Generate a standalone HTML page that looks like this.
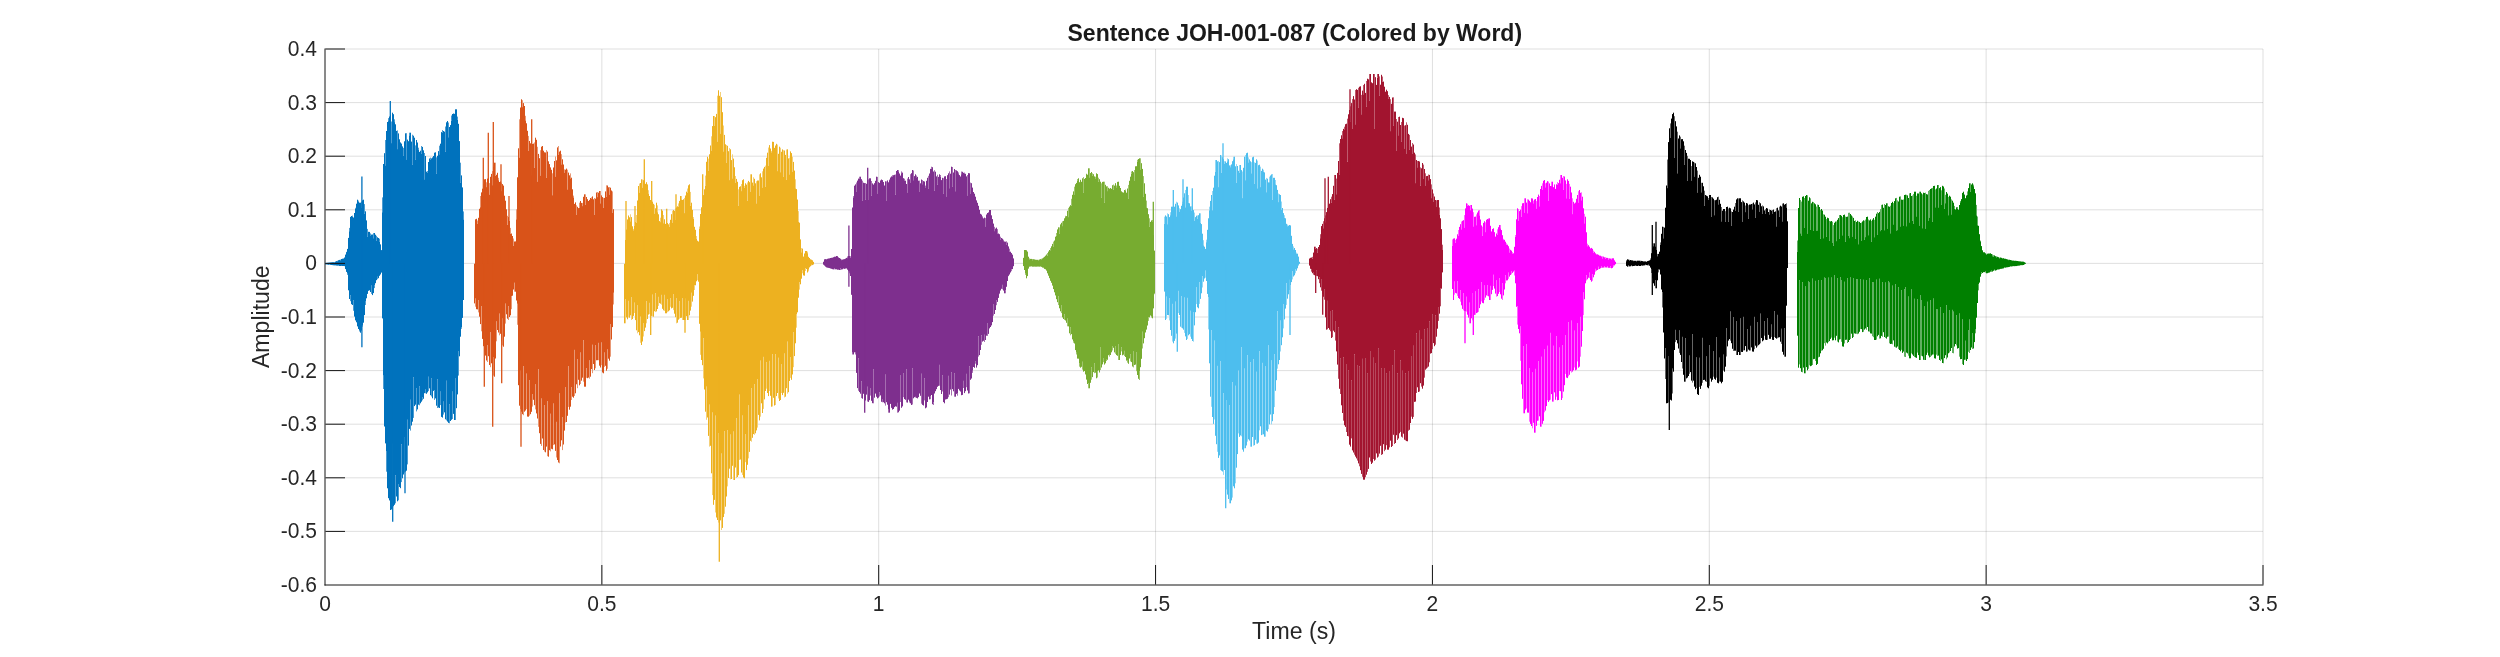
<!DOCTYPE html>
<html><head><meta charset="utf-8"><title>Sentence JOH-001-087</title>
<style>html,body{margin:0;padding:0;background:#fff;width:2500px;height:657px;overflow:hidden;font-family:"Liberation Sans",sans-serif}svg{display:block;will-change:transform}</style>
</head><body>
<svg width="2500" height="657" viewBox="0 0 2500 657"><g stroke="#262626" stroke-opacity="0.15" stroke-width="1"><line x1="601.86" y1="49" x2="601.86" y2="585"/><line x1="878.71" y1="49" x2="878.71" y2="585"/><line x1="1155.57" y1="49" x2="1155.57" y2="585"/><line x1="1432.43" y1="49" x2="1432.43" y2="585"/><line x1="1709.29" y1="49" x2="1709.29" y2="585"/><line x1="1986.14" y1="49" x2="1986.14" y2="585"/><line x1="2263.00" y1="49" x2="2263.00" y2="585"/><line x1="325" y1="531.40" x2="2263" y2="531.40"/><line x1="325" y1="477.80" x2="2263" y2="477.80"/><line x1="325" y1="424.20" x2="2263" y2="424.20"/><line x1="325" y1="370.60" x2="2263" y2="370.60"/><line x1="325" y1="317.00" x2="2263" y2="317.00"/><line x1="325" y1="263.40" x2="2263" y2="263.40"/><line x1="325" y1="209.80" x2="2263" y2="209.80"/><line x1="325" y1="156.20" x2="2263" y2="156.20"/><line x1="325" y1="102.60" x2="2263" y2="102.60"/><line x1="325" y1="49.00" x2="2263" y2="49.00"/></g>
<path fill="none" stroke="#4c9cd1" stroke-width="1" d="M325.5 262.9V262.9M328.5 262.6V262.6M331.5 262.3V262.3M334.5 262.0V262.4M337.5 260.7V261.2M340.5 259.6V260.3M343.5 258.3V258.9M346.5 251.8V252.1M349.5 227.9V231.2M352.5 215.6V216.6M355.5 207.8V208.9M358.5 200.6V201.8M361.5 201.7V207.9M364.5 204.1V213.8M367.5 228.9V236.5M370.5 233.4V235.4M373.5 233.1V238.2M376.5 235.8V240.6M379.5 238.7V241.6M382.5 197.4V212.2M385.5 140.0V165.3M388.5 118.1V121.1M391.5 121.5V143.1M394.5 119.3V122.1M397.5 130.4V149.1M400.5 143.0V142.6M403.5 147.9V155.5M406.5 133.2V159.4M409.5 132.7V135.3M412.5 134.7V164.6M415.5 145.4V159.6M418.5 147.7V150.0M421.5 146.0V153.9M424.5 153.0V179.3M427.5 171.0V172.8M430.5 157.6V159.5M433.5 160.9V156.0M436.5 157.3V173.6M439.5 145.7V154.3M442.5 130.1V132.8M445.5 126.5V151.8M448.5 122.5V137.2M451.5 115.5V120.7M454.5 120.7V113.9M457.5 116.6V119.5M460.5 162.7V182.5M463.5 211.4V219.3"/>
<path fill="none" stroke="#4c9cd1" stroke-width="1" d="M326.5 264.4V264.5M329.5 264.5V264.8M332.5 265.0V265.2M335.5 265.3V265.5M338.5 265.6V265.7M341.5 265.9V265.9M344.5 266.1V266.2M347.5 273.7V274.9M350.5 295.4V301.2M353.5 300.3V310.8M356.5 322.2V321.2M359.5 330.0V331.5M362.5 325.3V326.6M365.5 301.6V305.0M368.5 290.7V289.8M371.5 285.7V293.9M374.5 285.4V288.1M377.5 276.8V279.2M380.5 274.3V274.6M383.5 375.7V389.0M386.5 451.6V471.7M389.5 500.3V499.9M392.5 443.7V507.8M395.5 475.2V503.3M398.5 484.0V500.3M401.5 444.3V482.1M404.5 437.5V472.6M407.5 419.8V464.4M410.5 399.8V430.6M413.5 377.4V417.9M416.5 388.1V411.4M419.5 386.5V405.3M422.5 397.5V400.3M425.5 389.6V393.3M428.5 376.8V391.1M431.5 378.5V396.5M434.5 390.3V399.9M437.5 379.4V408.0M440.5 391.7V405.1M443.5 401.7V414.6M446.5 380.8V420.4M449.5 404.2V423.3M452.5 391.7V419.0M455.5 378.6V420.0M458.5 351.0V375.6M461.5 327.2V328.8"/>
<path fill="none" stroke="#0072BD" stroke-width="1" d="M325.5 262.9V264.4M326.5 262.8V264.4M327.5 262.7V264.6M328.5 262.6V264.8M329.5 262.5V264.5M330.5 262.4V264.9M331.5 262.3V265.0M332.5 262.2V265.0M333.5 262.2V265.3M334.5 262.4V265.4M335.5 261.6V265.3M336.5 261.1V265.6M337.5 261.2V265.7M338.5 260.2V265.6M339.5 259.9V266.0M340.5 260.3V266.0M341.5 259.0V265.9M342.5 258.7V266.0M343.5 258.9V266.0M344.5 257.5V266.1M345.5 254.6V269.1M346.5 252.1V271.9M347.5 248.9V273.7M348.5 237.9V290.3M349.5 231.2V299.0M350.5 216.9V295.4M351.5 216.0V304.2M352.5 216.6V305.0M353.5 217.5V300.3M354.5 213.0V316.6M355.5 208.9V320.4M356.5 203.7V322.2M357.5 199.7V326.4M358.5 201.8V329.0M359.5 202.7V330.0M360.5 202.7V332.7M361.5 207.9V330.6M362.5 200.3V325.3M363.5 199.7V322.7M364.5 213.8V315.1M365.5 211.3V301.6M366.5 220.4V298.3M367.5 236.5V293.9M368.5 231.8V290.7M369.5 231.9V290.3M370.5 235.4V292.0M371.5 234.6V285.7M372.5 234.5V295.1M373.5 238.2V293.1M374.5 233.0V285.4M375.5 234.7V283.2M376.5 240.6V280.2M377.5 237.3V276.8M378.5 238.0V278.2M379.5 241.6V275.8M380.5 244.4V274.3M381.5 250.1V272.6M382.5 212.2V318.4M383.5 164.0V375.7M384.5 153.2V426.5M385.5 165.3V443.4M386.5 131.0V451.6M387.5 122.0V488.3M388.5 121.1V498.2M389.5 116.5V500.3M390.5 115.0V510.0M391.5 143.1V509.5M392.5 112.7V443.7M393.5 114.2V506.2M394.5 122.1V504.8M395.5 124.3V475.2M396.5 130.9V496.5M397.5 149.1V501.3M398.5 133.4V484.0M399.5 139.3V487.0M400.5 142.6V488.2M401.5 143.6V444.3M402.5 146.4V478.3M403.5 155.5V474.5M404.5 141.3V437.5M405.5 133.3V471.6M406.5 159.4V470.7M407.5 139.6V419.8M408.5 141.2V445.6M409.5 135.3V428.9M410.5 132.7V399.8M411.5 141.6V425.5M412.5 164.6V421.7M413.5 135.7V377.4M414.5 137.7V406.1M415.5 159.6V404.7M416.5 140.0V388.1M417.5 142.5V409.4M418.5 150.0V404.7M419.5 151.9V386.5M420.5 150.7V403.3M421.5 153.9V401.7M422.5 146.9V397.5M423.5 150.3V398.8M424.5 179.3V393.2M425.5 156.0V389.6M426.5 171.7V393.8M427.5 172.8V392.4M428.5 162.0V376.8M429.5 158.5V388.4M430.5 159.5V395.2M431.5 158.4V378.5M432.5 157.4V398.3M433.5 156.0V390.9M434.5 152.7V390.3M435.5 152.3V398.4M436.5 173.6V405.7M437.5 155.8V379.4M438.5 151.1V407.5M439.5 154.3V408.0M440.5 143.7V391.7M441.5 132.1V416.9M442.5 132.8V417.6M443.5 131.0V401.7M444.5 131.7V412.4M445.5 151.8V419.3M446.5 122.3V380.8M447.5 121.0V421.6M448.5 137.2V422.9M449.5 127.0V404.2M450.5 125.1V421.0M451.5 120.7V419.8M452.5 114.0V391.7M453.5 113.5V413.9M454.5 113.9V420.0M455.5 109.3V378.6M456.5 109.3V408.2M457.5 119.5V394.4M458.5 123.8V351.0M459.5 141.1V356.3M460.5 182.5V336.7M461.5 175.4V327.2M462.5 187.4V317.9M463.5 219.3V300.0"/>
<path fill="none" stroke="#0072BD" stroke-width="1.3" d="M361.9 263.4V176.6M390.3 263.4V101.0M361.9 263.4V347.2M392.7 263.4V521.7M405.0 263.4V493.3"/>
<path fill="none" stroke="#e89875" stroke-width="1" d="M474.5 264.0V263.8M477.5 220.5V224.0M480.5 196.0V207.2M483.5 184.2V195.5M486.5 182.3V187.1M489.5 183.1V194.5M492.5 171.1V185.2M495.5 162.7V175.8M498.5 177.8V180.2M501.5 182.7V191.1M504.5 195.6V195.9M507.5 215.8V224.8M510.5 227.9V234.0M513.5 238.5V245.8M516.5 209.3V219.3M519.5 119.3V157.5M522.5 100.2V107.1M525.5 115.8V120.4M528.5 135.9V151.0M531.5 142.9V175.4M534.5 142.4V167.8M537.5 146.8V181.5M540.5 150.2V175.5M543.5 150.5V150.9M546.5 150.0V177.8M549.5 167.1V164.2M552.5 173.3V195.2M555.5 156.5V176.5M558.5 146.0V154.8M561.5 154.2V164.4M564.5 169.4V172.6M567.5 169.7V189.4M570.5 173.4V178.4M573.5 195.6V197.4M576.5 205.2V215.0M579.5 202.7V207.9M582.5 202.9V206.1M585.5 194.3V205.0M588.5 201.0V201.0M591.5 197.3V198.7M594.5 198.0V214.7M597.5 192.0V197.1M600.5 191.0V203.3M603.5 197.8V207.9M606.5 185.3V196.9M609.5 187.0V194.5M612.5 191.4V212.7"/>
<path fill="none" stroke="#e89875" stroke-width="1" d="M475.5 298.6V306.7M478.5 300.1V312.4M481.5 306.0V331.3M484.5 318.6V351.7M487.5 345.0V362.0M490.5 332.0V367.2M493.5 357.3V375.6M496.5 321.5V341.3M499.5 313.7V335.3M502.5 318.6V345.4M505.5 303.7V323.6M508.5 306.2V320.0M511.5 296.1V309.2M514.5 282.8V291.7M517.5 303.8V324.8M520.5 370.7V409.1M523.5 366.3V415.2M526.5 373.7V409.1M529.5 380.1V415.7M532.5 394.3V406.6M535.5 384.4V409.4M538.5 369.3V426.8M541.5 398.6V445.9M544.5 405.1V451.6M547.5 401.3V456.2M550.5 413.8V451.4M553.5 403.6V445.1M556.5 421.9V457.5M559.5 393.5V463.3M562.5 417.0V450.1M565.5 387.0V422.5M568.5 366.0V406.9M571.5 387.2V400.0M574.5 349.9V396.0M577.5 359.2V388.2M580.5 352.6V384.0M583.5 340.2V381.7M586.5 368.3V377.8M589.5 360.5V378.7M592.5 344.8V373.2M595.5 345.0V368.3M598.5 342.9V360.2M601.5 342.5V365.2M604.5 352.6V366.9M607.5 349.5V368.8M610.5 324.4V356.7M613.5 292.8V304.5"/>
<path fill="none" stroke="#D95319" stroke-width="1" d="M474.5 263.8V303.4M475.5 219.3V298.6M476.5 218.8V309.2M477.5 224.0V309.4M478.5 217.8V300.1M479.5 208.8V316.7M480.5 207.2V324.1M481.5 192.4V306.0M482.5 188.7V338.9M483.5 195.5V346.2M484.5 179.3V318.6M485.5 179.1V355.6M486.5 187.1V360.5M487.5 178.6V345.0M488.5 178.3V356.2M489.5 194.5V365.0M490.5 176.8V332.0M491.5 173.9V363.3M492.5 185.2V371.9M493.5 167.1V357.3M494.5 162.7V376.7M495.5 175.8V358.5M496.5 174.8V321.5M497.5 172.8V330.0M498.5 180.2V332.5M499.5 182.0V313.7M500.5 181.4V333.8M501.5 191.1V341.3M502.5 184.1V318.6M503.5 185.6V346.7M504.5 195.9V336.7M505.5 200.7V303.7M506.5 209.3V314.3M507.5 224.8V318.7M508.5 217.1V306.2M509.5 221.0V317.0M510.5 234.0V315.3M511.5 233.5V296.1M512.5 236.0V295.7M513.5 245.8V289.5M514.5 241.5V282.8M515.5 241.4V291.7M516.5 219.3V300.5M517.5 177.3V303.8M518.5 148.3V385.2M519.5 157.5V405.7M520.5 107.5V370.7M521.5 99.3V411.7M522.5 107.1V414.2M523.5 103.1V366.3M524.5 106.0V411.7M525.5 120.4V410.5M526.5 123.3V373.7M527.5 130.8V416.6M528.5 151.0V416.7M529.5 141.0V380.1M530.5 143.3V414.2M531.5 175.4V411.8M532.5 144.0V394.3M533.5 143.6V399.8M534.5 167.8V405.2M535.5 137.7V384.4M536.5 139.8V413.4M537.5 181.5V418.5M538.5 153.9V369.3M539.5 158.2V433.2M540.5 175.5V443.9M541.5 146.7V398.6M542.5 146.0V438.5M543.5 150.9V450.0M544.5 152.3V405.1M545.5 152.5V452.3M546.5 177.8V446.6M547.5 151.6V401.3M548.5 161.3V456.7M549.5 164.2V450.2M550.5 167.4V413.8M551.5 169.8V448.8M552.5 195.2V449.3M553.5 167.5V403.6M554.5 161.0V444.4M555.5 176.5V450.9M556.5 160.3V421.9M557.5 147.4V460.0M558.5 154.8V462.5M559.5 151.6V393.5M560.5 150.7V446.5M561.5 164.4V440.3M562.5 159.3V417.0M563.5 164.5V444.5M564.5 172.6V430.6M565.5 169.7V387.0M566.5 168.6V422.0M567.5 189.4V415.8M568.5 172.6V366.0M569.5 175.3V409.7M570.5 178.4V406.7M571.5 177.7V387.2M572.5 189.3V396.7M573.5 197.4V397.7M574.5 203.9V349.9M575.5 202.4V393.3M576.5 215.0V384.3M577.5 206.8V359.2M578.5 208.1V379.8M579.5 207.9V385.3M580.5 201.0V352.6M581.5 202.9V380.7M582.5 206.1V377.7M583.5 196.8V340.2M584.5 194.3V386.7M585.5 205.0V386.7M586.5 197.0V368.3M587.5 199.2V378.2M588.5 201.0V377.6M589.5 199.9V360.5M590.5 198.0V376.7M591.5 198.7V369.1M592.5 196.4V344.8M593.5 199.3V364.0M594.5 214.7V370.0M595.5 198.7V345.0M596.5 192.5V360.3M597.5 197.1V360.2M598.5 192.7V342.9M599.5 191.0V365.7M600.5 203.3V367.5M601.5 195.4V342.5M602.5 197.1V372.5M603.5 207.9V373.3M604.5 197.9V352.6M605.5 191.4V365.8M606.5 196.9V370.7M607.5 185.5V349.5M608.5 187.3V358.7M609.5 194.5V360.7M610.5 187.7V324.4M611.5 190.5V339.5M612.5 212.7V327.1M613.5 209.2V292.8"/>
<path fill="none" stroke="#D95319" stroke-width="1.3" d="M483.3 263.4V157.7M488.3 263.4V132.7M493.3 263.4V122.0M501.0 263.4V164.3M509.0 263.4V196.0M531.7 263.4V119.3M484.3 263.4V386.7M492.7 263.4V426.7M501.7 263.4V383.3M521.0 263.4V446.7"/>
<path fill="none" stroke="#f4d079" stroke-width="1" d="M624.5 264.0V263.9M627.5 219.1V220.0M630.5 214.3V221.3M633.5 228.9V230.3M636.5 215.0V223.0M639.5 183.5V192.5M642.5 179.5V187.5M645.5 187.1V183.9M648.5 190.2V193.5M651.5 199.7V202.2M654.5 204.8V213.5M657.5 205.4V212.2M660.5 217.7V222.1M663.5 215.0V223.2M666.5 221.8V229.1M669.5 222.9V226.8M672.5 210.8V222.6M675.5 208.5V220.0M678.5 203.4V207.0M681.5 196.0V199.4M684.5 197.9V213.1M687.5 188.5V192.9M690.5 191.9V205.9M693.5 217.1V218.8M696.5 236.0V238.8M699.5 226.5V228.6M702.5 200.9V219.3M705.5 175.6V185.8M708.5 158.6V170.6M711.5 136.3V150.5M714.5 116.0V126.0M717.5 95.7V141.5M720.5 92.0V133.5M723.5 125.5V151.4M726.5 145.0V162.9M729.5 148.1V180.1M732.5 154.3V178.4M735.5 176.0V183.0M738.5 189.3V205.9M741.5 184.0V191.1M744.5 185.8V187.8M747.5 182.5V200.8M750.5 174.3V191.6M753.5 177.3V185.4M756.5 181.2V203.4M759.5 174.3V195.6M762.5 171.3V187.5M765.5 165.6V186.9M768.5 147.5V166.0M771.5 150.9V152.3M774.5 149.1V147.9M777.5 144.6V171.1M780.5 147.7V172.2M783.5 150.2V176.9M786.5 149.5V179.7M789.5 157.6V174.4M792.5 156.7V171.6M795.5 179.3V188.3M798.5 211.1V221.6M801.5 248.1V252.3M804.5 253.2V253.6M807.5 251.6V253.2M810.5 259.1V259.3M813.5 261.8V262.0"/>
<path fill="none" stroke="#f4d079" stroke-width="1" d="M625.5 299.0V323.3M628.5 300.9V317.4M631.5 297.0V320.0M634.5 302.7V313.0M637.5 305.4V333.3M640.5 316.7V342.8M643.5 323.4V336.5M646.5 301.1V323.3M649.5 302.9V314.1M652.5 294.7V316.5M655.5 293.2V312.1M658.5 296.9V305.9M661.5 294.9V304.7M664.5 294.9V310.9M667.5 299.0V312.2M670.5 298.3V306.8M673.5 294.0V310.1M676.5 298.4V323.3M679.5 301.2V318.7M682.5 298.4V320.0M685.5 298.7V320.0M688.5 300.9V320.0M691.5 292.8V306.7M694.5 285.0V290.0M697.5 274.5V280.2M700.5 331.8V354.8M703.5 338.2V378.4M706.5 386.7V419.8M709.5 404.7V446.6M712.5 412.6V495.1M715.5 415.7V512.5M718.5 433.1V522.6M721.5 453.6V530.0M724.5 431.3V513.8M727.5 430.1V486.4M730.5 434.6V479.3M733.5 431.6V480.0M736.5 418.2V478.0M739.5 394.7V459.9M742.5 415.6V475.0M745.5 434.0V462.2M748.5 405.4V458.4M751.5 388.2V441.7M754.5 384.1V434.8M757.5 379.0V427.6M760.5 360.7V416.7M763.5 356.9V408.9M766.5 362.1V388.7M769.5 360.9V391.0M772.5 354.1V406.5M775.5 354.1V405.0M778.5 357.8V398.5M781.5 364.4V393.0M784.5 353.6V397.4M787.5 341.7V393.7M790.5 357.0V377.9M793.5 332.3V367.2M796.5 314.5V327.7M799.5 282.1V289.6M802.5 270.4V273.3M805.5 268.2V271.0M808.5 269.7V271.4M811.5 264.8V265.6"/>
<path fill="none" stroke="#EDB120" stroke-width="1" d="M624.5 263.9V323.3M625.5 240.0V299.0M626.5 229.6V317.4M627.5 220.0V319.3M628.5 215.5V300.9M629.5 217.3V317.7M630.5 221.3V315.4M631.5 217.1V297.0M632.5 226.3V319.1M633.5 230.3V315.9M634.5 226.0V302.7M635.5 222.1V320.1M636.5 223.0V330.3M637.5 200.5V305.4M638.5 186.0V332.1M639.5 192.5V335.3M640.5 183.0V316.7M641.5 179.3V345.0M642.5 187.5V341.5M643.5 180.2V323.4M644.5 180.8V331.1M645.5 183.9V327.6M646.5 182.2V301.1M647.5 184.4V319.0M648.5 193.5V314.6M649.5 196.0V302.9M650.5 200.0V315.2M651.5 202.2V315.9M652.5 201.7V294.7M653.5 203.8V316.7M654.5 213.5V311.2M655.5 208.3V293.2M656.5 202.7V311.4M657.5 212.2V309.0M658.5 214.3V296.9M659.5 221.1V303.1M660.5 222.1V303.7M661.5 209.3V294.9M662.5 210.6V308.8M663.5 223.2V310.3M664.5 219.3V294.9M665.5 223.9V313.3M666.5 229.1V313.3M667.5 223.0V299.0M668.5 224.3V311.3M669.5 226.8V310.3M670.5 219.8V298.3M671.5 214.2V308.4M672.5 222.6V307.8M673.5 210.0V294.0M674.5 210.8V313.7M675.5 220.0V317.2M676.5 207.4V298.4M677.5 206.3V322.7M678.5 207.0V319.7M679.5 200.9V301.2M680.5 196.0V317.9M681.5 199.4V317.7M682.5 200.0V298.4M683.5 199.3V320.0M684.5 213.1V320.0M685.5 195.5V298.7M686.5 191.7V316.2M687.5 192.9V320.0M688.5 185.3V300.9M689.5 184.3V315.3M690.5 205.9V310.6M691.5 202.7V292.8M692.5 209.9V301.6M693.5 218.8V295.8M694.5 226.8V285.0M695.5 229.8V285.3M696.5 238.8V281.3M697.5 240.7V274.5M698.5 241.5V281.7M699.5 228.6V323.8M700.5 214.0V331.8M701.5 207.3V360.0M702.5 219.3V365.2M703.5 195.1V338.2M704.5 189.3V389.5M705.5 185.8V411.7M706.5 161.8V386.7M707.5 156.8V417.5M708.5 170.6V435.9M709.5 154.3V404.7M710.5 145.5V445.8M711.5 150.5V473.3M712.5 126.1V412.6M713.5 116.0V504.8M714.5 126.0V499.9M715.5 117.2V415.7M716.5 113.9V517.5M717.5 141.5V520.0M718.5 90.3V433.1M719.5 95.8V525.3M720.5 133.5V520.4M721.5 97.2V453.6M722.5 112.2V527.9M723.5 151.4V517.1M724.5 134.9V431.3M725.5 144.3V506.7M726.5 162.9V496.5M727.5 145.8V430.1M728.5 151.2V478.0M729.5 180.1V468.7M730.5 149.3V434.6M731.5 160.1V479.0M732.5 178.4V465.8M733.5 158.6V431.6M734.5 167.3V480.0M735.5 183.0V467.5M736.5 178.9V418.2M737.5 181.8V477.0M738.5 205.9V475.2M739.5 186.9V394.7M740.5 186.3V459.5M741.5 191.1V472.5M742.5 180.2V415.6M743.5 179.3V477.5M744.5 187.8V478.3M745.5 183.3V434.0M746.5 184.6V470.1M747.5 200.8V464.8M748.5 180.9V405.4M749.5 182.2V451.9M750.5 191.6V440.8M751.5 174.3V388.2M752.5 182.6V437.8M753.5 185.4V434.1M754.5 178.8V384.1M755.5 183.3V433.3M756.5 203.4V430.4M757.5 180.5V379.0M758.5 180.5V414.9M759.5 195.6V420.4M760.5 173.3V360.7M761.5 177.3V403.3M762.5 187.5V413.0M763.5 168.6V356.9M764.5 166.9V399.4M765.5 186.9V391.0M766.5 157.8V362.1M767.5 152.7V393.0M768.5 166.0V396.1M769.5 145.1V360.9M770.5 148.5V395.8M771.5 152.3V406.7M772.5 141.7V354.1M773.5 141.9V397.8M774.5 147.9V405.5M775.5 145.5V354.1M776.5 143.8V396.1M777.5 171.1V393.0M778.5 153.8V357.8M779.5 146.7V401.0M780.5 172.2V400.0M781.5 151.8V364.4M782.5 149.4V395.1M783.5 176.9V392.8M784.5 150.5V353.6M785.5 154.9V396.7M786.5 179.7V388.2M787.5 149.3V341.7M788.5 158.4V392.2M789.5 174.4V381.0M790.5 151.4V357.0M791.5 153.1V379.8M792.5 171.6V374.5M793.5 161.9V332.3M794.5 170.6V356.1M795.5 188.3V343.3M796.5 189.1V314.5M797.5 199.5V312.3M798.5 221.6V297.7M799.5 222.7V282.1M800.5 239.4V284.3M801.5 252.3V278.7M802.5 248.6V270.4M803.5 256.6V275.4M804.5 253.6V275.7M805.5 251.0V268.2M806.5 251.0V269.0M807.5 253.2V272.5M808.5 256.8V269.7M809.5 258.0V267.4M810.5 259.3V266.3M811.5 259.7V264.8M812.5 260.3V265.1M813.5 262.0V264.5"/>
<path fill="none" stroke="#EDB120" stroke-width="1.3" d="M626.0 263.4V201.0M635.0 263.4V206.0M644.3 263.4V159.3M651.7 263.4V181.0M666.7 263.4V208.7M676.0 263.4V194.3M702.7 263.4V174.3M650.7 263.4V335.0M685.0 263.4V332.7M719.3 263.4V561.7"/>
<path fill="none" stroke="#a56db0" stroke-width="1" d="M823.5 261.7V261.9M826.5 259.1V259.3M829.5 258.3V258.4M832.5 257.6V257.7M835.5 256.6V256.8M838.5 257.2V257.5M841.5 259.4V260.1M844.5 259.0V259.1M847.5 256.4V258.1M850.5 256.2V258.0M853.5 196.1V197.4M856.5 182.5V192.0M859.5 176.7V178.4M862.5 180.7V200.6M865.5 183.0V199.6M868.5 179.4V200.0M871.5 181.0V195.8M874.5 186.2V183.3M877.5 176.9V193.4M880.5 182.9V180.6M883.5 185.2V182.1M886.5 181.4V201.0M889.5 179.5V180.1M892.5 175.2V177.0M895.5 174.5V194.7M898.5 170.1V172.0M901.5 171.4V173.2M904.5 178.7V180.4M907.5 178.6V192.4M910.5 174.2V182.4M913.5 170.5V180.2M916.5 175.5V177.3M919.5 180.6V192.0M922.5 180.1V184.2M925.5 185.6V187.4M928.5 175.8V188.5M931.5 166.7V168.6M934.5 170.2V190.8M937.5 174.7V184.7M940.5 175.0V176.8M943.5 178.2V193.5M946.5 179.0V196.4M949.5 171.4V188.2M952.5 167.0V186.9M955.5 170.0V191.2M958.5 172.4V174.1M961.5 171.5V174.2M964.5 172.6V174.0M967.5 175.0V195.4M970.5 182.6V194.0M973.5 195.0V192.1M976.5 200.1V201.0M979.5 210.8V209.9M982.5 216.3V217.2M985.5 218.1V226.4M988.5 212.1V212.6M991.5 216.0V215.5M994.5 226.8V231.1M997.5 229.1V233.4M1000.5 236.7V239.9M1003.5 239.7V241.1M1006.5 241.3V245.0M1009.5 248.7V251.5M1012.5 254.6V254.7"/>
<path fill="none" stroke="#a56db0" stroke-width="1" d="M825.5 266.6V266.4M828.5 267.9V267.9M831.5 268.8V268.7M834.5 268.1V269.3M837.5 269.7V269.5M840.5 268.4V270.0M843.5 268.1V268.9M846.5 268.2V268.6M849.5 271.8V273.3M852.5 352.7V354.5M855.5 352.7V354.5M858.5 358.3V390.8M861.5 381.4V398.1M864.5 385.9V400.0M867.5 386.8V401.5M870.5 388.6V395.6M873.5 369.5V403.3M876.5 396.6V393.3M879.5 392.3V396.5M882.5 399.6V402.3M885.5 374.7V405.6M888.5 409.7V412.7M891.5 407.7V403.5M894.5 407.1V402.2M897.5 402.9V412.7M900.5 375.6V402.0M903.5 373.1V397.2M906.5 369.5V402.4M909.5 401.1V402.5M912.5 368.4V404.5M915.5 396.8V397.5M918.5 397.0V397.2M921.5 373.8V403.7M924.5 378.4V400.4M927.5 402.0V401.4M930.5 396.5V399.2M933.5 402.2V405.0M936.5 389.1V386.9M939.5 364.9V385.7M942.5 375.4V391.5M945.5 399.4V399.1M948.5 375.9V397.2M951.5 372.4V395.5M954.5 373.4V396.7M957.5 393.5V395.7M960.5 391.4V388.5M963.5 380.9V388.0M966.5 373.9V387.2M969.5 366.3V393.3M972.5 370.7V372.9M975.5 361.3V363.7M978.5 336.3V356.6M981.5 335.3V344.8M984.5 334.8V342.0M987.5 323.0V335.9M990.5 327.0V324.5M993.5 304.6V315.7M996.5 300.2V305.2M999.5 293.4V294.1M1002.5 284.9V289.3M1005.5 290.4V293.3M1008.5 275.9V276.2M1011.5 269.5V271.2"/>
<path fill="none" stroke="#7E2F8E" stroke-width="1" d="M823.5 261.9V264.7M824.5 259.3V265.6M825.5 259.1V266.6M826.5 259.3V267.4M827.5 258.8V267.7M828.5 258.5V267.9M829.5 258.4V268.1M830.5 258.0V268.5M831.5 257.8V268.8M832.5 257.7V269.2M833.5 257.2V269.4M834.5 256.7V268.1M835.5 256.8V269.3M836.5 256.0V269.3M837.5 256.2V269.7M838.5 257.5V269.7M839.5 258.0V270.0M840.5 258.7V268.4M841.5 260.1V269.5M842.5 259.6V269.3M843.5 259.3V268.1M844.5 259.1V268.9M845.5 258.6V268.6M846.5 257.9V268.2M847.5 258.1V269.7M848.5 256.0V271.2M849.5 256.0V271.8M850.5 258.0V276.0M851.5 249.0V294.8M852.5 207.5V352.7M853.5 197.4V354.5M854.5 185.7V352.3M855.5 184.4V352.7M856.5 192.0V372.9M857.5 180.6V388.1M858.5 178.6V358.3M859.5 178.4V392.1M860.5 176.7V393.7M861.5 179.2V381.4M862.5 200.6V398.7M863.5 182.7V393.8M864.5 183.1V385.9M865.5 199.6V400.5M866.5 183.8V394.6M867.5 180.5V386.8M868.5 200.0V401.9M869.5 178.3V400.2M870.5 178.3V388.6M871.5 195.8V400.8M872.5 183.4V403.2M873.5 184.6V369.5M874.5 183.3V397.7M875.5 180.8V393.6M876.5 176.7V396.6M877.5 193.4V398.4M878.5 182.1V397.7M879.5 182.9V392.3M880.5 180.6V395.4M881.5 179.5V401.8M882.5 180.1V399.6M883.5 182.1V402.2M884.5 185.5V403.3M885.5 181.3V374.7M886.5 201.0V402.2M887.5 180.4V404.7M888.5 182.3V409.7M889.5 180.1V412.7M890.5 177.5V403.9M891.5 176.4V407.7M892.5 177.0V409.6M893.5 175.2V409.0M894.5 174.8V407.1M895.5 194.7V406.3M896.5 171.0V406.7M897.5 170.0V402.9M898.5 172.0V412.3M899.5 173.5V410.7M900.5 175.6V375.6M901.5 173.2V407.8M902.5 172.6V406.4M903.5 178.2V373.1M904.5 180.4V399.1M905.5 180.7V399.8M906.5 184.0V369.5M907.5 192.4V402.6M908.5 177.0V399.7M909.5 179.3V401.1M910.5 182.4V403.3M911.5 173.2V405.0M912.5 170.0V368.4M913.5 180.2V398.3M914.5 176.1V397.2M915.5 174.3V396.8M916.5 177.3V397.9M917.5 176.9V398.4M918.5 180.7V397.0M919.5 192.0V393.5M920.5 183.3V395.8M921.5 179.5V373.8M922.5 184.2V404.9M923.5 181.1V405.5M924.5 181.5V378.4M925.5 187.4V408.3M926.5 180.8V407.5M927.5 177.8V402.0M928.5 188.5V396.7M929.5 173.5V399.4M930.5 168.9V396.5M931.5 168.6V395.0M932.5 167.2V404.2M933.5 171.5V402.2M934.5 190.8V393.5M935.5 171.7V391.2M936.5 176.4V389.1M937.5 184.7V386.8M938.5 176.9V385.9M939.5 174.3V364.9M940.5 176.8V390.0M941.5 180.1V394.0M942.5 177.8V375.4M943.5 193.5V402.1M944.5 176.4V403.3M945.5 176.2V399.4M946.5 196.4V399.2M947.5 175.2V398.8M948.5 173.3V375.9M949.5 188.2V394.6M950.5 173.7V389.6M951.5 166.7V372.4M952.5 186.9V389.1M953.5 172.5V391.3M954.5 169.0V373.4M955.5 191.2V396.7M956.5 170.4V393.9M957.5 171.2V393.5M958.5 174.1V388.9M959.5 175.1V390.5M960.5 176.5V391.4M961.5 174.2V395.2M962.5 171.8V394.9M963.5 172.8V380.9M964.5 174.0V393.1M965.5 173.8V391.2M966.5 176.4V373.9M967.5 195.4V390.5M968.5 173.1V393.5M969.5 173.3V366.3M970.5 194.0V379.8M971.5 183.2V378.5M972.5 187.6V370.7M973.5 192.1V367.0M974.5 193.7V367.8M975.5 196.7V361.3M976.5 201.0V367.6M977.5 202.8V365.2M978.5 205.8V336.3M979.5 209.9V355.1M980.5 213.8V350.0M981.5 214.6V335.3M982.5 217.2V341.6M983.5 218.4V340.8M984.5 217.6V334.8M985.5 226.4V340.0M986.5 214.5V335.7M987.5 213.0V323.0M988.5 212.6V333.9M989.5 210.0V328.4M990.5 210.0V327.0M991.5 215.5V325.4M992.5 219.1V322.1M993.5 223.6V304.6M994.5 231.1V314.0M995.5 228.6V310.0M996.5 227.6V300.2M997.5 233.4V301.9M998.5 233.5V297.9M999.5 234.2V293.4M1000.5 239.9V290.5M1001.5 238.0V288.8M1002.5 238.7V284.9M1003.5 241.1V290.6M1004.5 241.5V293.3M1005.5 241.7V290.4M1006.5 245.0V286.8M1007.5 242.6V281.0M1008.5 246.4V275.9M1009.5 251.5V274.5M1010.5 251.7V272.5M1011.5 253.1V269.5M1012.5 254.7V269.1M1013.5 258.4V266.2"/>
<path fill="none" stroke="#7E2F8E" stroke-width="1.3" d="M848.9 263.4V225.4M867.7 263.4V167.7M848.9 263.4V286.8M864.7 263.4V412.7"/>
<path fill="none" stroke="#a0c56e" stroke-width="1" d="M1023.5 257.8V257.9M1026.5 250.0V250.3M1029.5 258.4V259.3M1032.5 259.0V260.2M1035.5 259.6V259.9M1038.5 259.8V260.3M1041.5 258.7V259.4M1044.5 256.9V256.8M1047.5 253.0V255.7M1050.5 248.0V250.3M1053.5 241.6V247.0M1056.5 233.0V235.7M1059.5 227.4V233.6M1062.5 221.3V226.1M1065.5 215.8V217.1M1068.5 207.9V217.1M1071.5 198.8V205.7M1074.5 186.7V194.4M1077.5 179.1V180.8M1080.5 179.7V180.0M1083.5 177.1V192.5M1086.5 173.7V174.1M1089.5 168.3V177.3M1092.5 173.3V175.8M1095.5 176.7V178.4M1098.5 177.7V181.7M1101.5 183.3V197.8M1104.5 181.7V202.7M1107.5 186.2V191.1M1110.5 190.3V188.1M1113.5 184.5V189.7M1116.5 185.5V187.3M1119.5 188.9V185.9M1122.5 192.7V192.3M1125.5 189.5V191.0M1128.5 184.9V198.5M1131.5 171.5V173.7M1134.5 170.0V180.4M1137.5 159.8V161.9M1140.5 158.3V169.4M1143.5 176.1V196.8M1146.5 200.6V207.3M1149.5 218.3V226.6M1152.5 220.0V221.6"/>
<path fill="none" stroke="#a0c56e" stroke-width="1" d="M1025.5 273.6V274.9M1028.5 268.5V268.9M1031.5 266.0V266.5M1034.5 266.6V266.7M1037.5 266.6V266.6M1040.5 266.5V266.6M1043.5 267.7V268.1M1046.5 270.6V270.8M1049.5 278.0V278.3M1052.5 285.4V285.9M1055.5 295.3V294.7M1058.5 296.5V305.1M1061.5 305.0V313.1M1064.5 314.2V319.9M1067.5 318.7V326.3M1070.5 327.1V335.3M1073.5 341.2V342.7M1076.5 352.7V354.5M1079.5 363.0V366.7M1082.5 361.8V369.7M1085.5 374.3V372.2M1088.5 383.2V388.3M1091.5 367.2V379.7M1094.5 363.5V373.2M1097.5 371.5V377.5M1100.5 347.0V370.0M1103.5 358.6V362.2M1106.5 359.7V361.0M1109.5 354.8V356.7M1112.5 346.5V350.5M1115.5 346.6V353.8M1118.5 344.0V360.0M1121.5 347.4V351.4M1124.5 350.9V356.0M1127.5 360.7V362.7M1130.5 354.1V361.4M1133.5 351.6V367.4M1136.5 352.0V371.2M1139.5 371.1V380.0M1142.5 331.8V348.5M1145.5 332.4V332.6M1148.5 317.2V320.9M1151.5 316.0V317.6M1154.5 293.6V294.2"/>
<path fill="none" stroke="#77AC30" stroke-width="1" d="M1023.5 257.9V266.1M1024.5 250.0V270.0M1025.5 250.0V273.6M1026.5 250.3V278.3M1027.5 251.6V276.1M1028.5 256.7V268.5M1029.5 259.3V266.7M1030.5 258.9V266.5M1031.5 258.9V266.0M1032.5 260.2V266.7M1033.5 259.2V266.7M1034.5 259.4V266.6M1035.5 259.9V266.7M1036.5 259.8V266.7M1037.5 259.8V266.6M1038.5 260.3V266.6M1039.5 259.5V266.7M1040.5 259.1V266.5M1041.5 259.4V266.9M1042.5 258.4V267.6M1043.5 257.6V267.7M1044.5 256.8V268.9M1045.5 255.7V269.3M1046.5 254.5V270.6M1047.5 255.7V273.3M1048.5 251.5V275.7M1049.5 250.0V278.0M1050.5 250.3V280.8M1051.5 246.3V282.8M1052.5 243.9V285.4M1053.5 247.0V289.1M1054.5 240.5V292.3M1055.5 236.7V295.3M1056.5 235.7V299.2M1057.5 229.4V302.2M1058.5 227.3V296.5M1059.5 233.6V308.3M1060.5 224.4V311.3M1061.5 222.8V305.0M1062.5 226.1V317.4M1063.5 220.9V319.0M1064.5 218.3V314.2M1065.5 217.1V320.5M1066.5 216.1V322.8M1067.5 210.8V318.7M1068.5 217.1V326.4M1069.5 206.6V333.3M1070.5 205.2V327.1M1071.5 205.7V334.1M1072.5 194.8V339.4M1073.5 191.4V341.2M1074.5 194.4V343.5M1075.5 184.2V350.1M1076.5 182.9V352.7M1077.5 180.8V358.6M1078.5 178.3V358.7M1079.5 182.2V363.0M1080.5 180.0V367.7M1081.5 181.8V366.8M1082.5 178.3V361.8M1083.5 192.5V371.7M1084.5 178.9V371.1M1085.5 178.0V374.3M1086.5 174.1V379.6M1087.5 174.7V384.0M1088.5 168.3V383.2M1089.5 177.3V388.3M1090.5 173.1V382.8M1091.5 172.0V367.2M1092.5 175.8V377.1M1093.5 174.2V372.1M1094.5 176.4V363.5M1095.5 178.4V372.7M1096.5 173.3V378.3M1097.5 174.1V371.5M1098.5 181.7V370.4M1099.5 179.2V372.5M1100.5 181.7V347.0M1101.5 197.8V367.5M1102.5 181.9V364.4M1103.5 181.7V358.6M1104.5 202.7V364.6M1105.5 184.8V363.3M1106.5 186.4V359.7M1107.5 191.1V359.8M1108.5 187.8V355.2M1109.5 188.7V354.8M1110.5 188.1V355.0M1111.5 188.8V352.3M1112.5 185.2V346.5M1113.5 189.7V347.8M1114.5 185.6V352.4M1115.5 183.2V346.6M1116.5 187.3V355.1M1117.5 181.9V355.8M1118.5 181.7V344.0M1119.5 185.9V360.0M1120.5 188.0V355.0M1121.5 191.3V347.4M1122.5 192.3V355.3M1123.5 192.6V354.7M1124.5 190.0V350.9M1125.5 191.0V357.0M1126.5 192.7V360.6M1127.5 188.5V360.7M1128.5 198.5V363.8M1129.5 180.8V358.5M1130.5 176.7V354.1M1131.5 173.7V362.1M1132.5 171.0V366.5M1133.5 172.2V351.6M1134.5 180.4V365.0M1135.5 166.3V364.6M1136.5 166.2V352.0M1137.5 161.9V375.0M1138.5 159.0V378.8M1139.5 158.3V371.1M1140.5 169.4V367.2M1141.5 163.2V358.8M1142.5 168.9V331.8M1143.5 196.8V343.4M1144.5 183.3V338.2M1145.5 193.8V332.4M1146.5 207.3V329.6M1147.5 208.2V325.5M1148.5 214.2V317.2M1149.5 226.6V317.4M1150.5 221.9V315.5M1151.5 220.4V316.0M1152.5 221.6V318.3M1153.5 235.2V308.4M1154.5 250.6V293.6"/>
<path fill="none" stroke="#77AC30" stroke-width="1.3" d="M1153.3 263.4V201.7"/>
<path fill="none" stroke="#94d8f5" stroke-width="1" d="M1164.5 216.7V223.9M1167.5 213.3V224.2M1170.5 212.2V215.2M1173.5 206.7V210.1M1176.5 201.7V216.4M1179.5 208.3V211.6M1182.5 201.7V203.9M1185.5 190.0V207.3M1188.5 195.0V202.8M1191.5 206.3V210.7M1194.5 212.6V221.0M1197.5 215.4V219.0M1200.5 213.3V222.9M1203.5 240.2V245.3M1206.5 239.7V242.2M1209.5 206.7V210.3M1212.5 191.0V210.2M1215.5 160.0V172.0M1218.5 160.9V187.1M1221.5 155.5V172.9M1224.5 161.2V164.0M1227.5 158.3V161.3M1230.5 165.3V167.2M1233.5 156.7V159.3M1236.5 164.1V182.8M1239.5 165.0V173.0M1242.5 171.5V198.1M1245.5 155.0V180.2M1248.5 157.3V162.4M1251.5 162.2V173.3M1254.5 162.3V183.9M1257.5 160.6V188.3M1260.5 166.7V187.1M1263.5 169.7V171.6M1266.5 177.9V192.2M1269.5 176.7V182.2M1272.5 174.0V199.8M1275.5 180.0V184.3M1278.5 193.5V202.1M1281.5 201.5V209.6M1284.5 215.2V218.0M1287.5 224.5V226.2M1290.5 225.0V226.0M1293.5 246.4V249.3M1296.5 252.6V254.0M1299.5 261.7V262.0"/>
<path fill="none" stroke="#94d8f5" stroke-width="1" d="M1166.5 296.7V318.8M1169.5 298.0V320.4M1172.5 303.9V341.6M1175.5 301.7V338.6M1178.5 290.9V313.1M1181.5 296.3V327.7M1184.5 297.6V332.9M1187.5 297.9V338.9M1190.5 310.8V336.7M1193.5 312.4V341.7M1196.5 287.4V304.1M1199.5 282.2V303.9M1202.5 276.2V287.5M1205.5 270.7V277.7M1208.5 297.4V329.4M1211.5 330.1V406.8M1214.5 340.7V419.5M1217.5 365.9V451.8M1220.5 361.0V470.0M1223.5 393.2V474.9M1226.5 400.4V489.5M1229.5 405.2V503.3M1232.5 382.3V497.6M1235.5 385.8V483.3M1238.5 370.6V433.4M1241.5 347.3V436.3M1244.5 368.6V448.3M1247.5 355.2V441.7M1250.5 362.1V446.7M1253.5 359.2V445.7M1256.5 371.8V443.6M1259.5 351.2V430.3M1262.5 362.9V434.6M1265.5 366.4V436.7M1268.5 345.4V429.1M1271.5 360.5V424.3M1274.5 354.1V407.1M1277.5 311.2V368.7M1280.5 320.6V351.5M1283.5 304.0V328.4M1286.5 283.2V304.9M1289.5 279.8V290.0M1292.5 271.1V279.4M1295.5 269.4V273.3M1298.5 264.9V265.8"/>
<path fill="none" stroke="#4DBEEE" stroke-width="1" d="M1164.5 223.9V291.6M1165.5 215.4V320.0M1166.5 216.5V296.7M1167.5 224.2V315.0M1168.5 214.2V315.2M1169.5 217.1V298.0M1170.5 215.2V330.0M1171.5 206.7V335.8M1172.5 206.7V303.9M1173.5 210.1V343.3M1174.5 206.7V340.9M1175.5 203.8V301.7M1176.5 216.4V333.6M1177.5 202.6V323.1M1178.5 205.4V290.9M1179.5 211.6V315.0M1180.5 209.2V326.7M1181.5 205.8V296.3M1182.5 203.9V328.3M1183.5 197.5V329.7M1184.5 193.3V297.6M1185.5 207.3V336.4M1186.5 186.7V340.0M1187.5 186.7V297.9M1188.5 202.8V335.3M1189.5 203.3V334.2M1190.5 206.4V310.8M1191.5 210.7V338.9M1192.5 207.8V341.0M1193.5 210.1V312.4M1194.5 221.0V325.4M1195.5 217.1V312.2M1196.5 215.7V287.4M1197.5 219.0V307.3M1198.5 215.2V308.3M1199.5 213.3V282.2M1200.5 222.9V298.9M1201.5 224.1V293.3M1202.5 233.7V276.2M1203.5 245.3V281.7M1204.5 246.7V278.5M1205.5 248.9V270.7M1206.5 242.2V281.0M1207.5 229.8V293.9M1208.5 218.3V297.4M1209.5 210.3V363.3M1210.5 200.9V396.7M1211.5 195.0V330.1M1212.5 210.2V417.0M1213.5 187.7V423.9M1214.5 175.7V340.7M1215.5 172.0V435.8M1216.5 160.0V444.2M1217.5 161.4V365.9M1218.5 187.1V457.9M1219.5 162.1V455.4M1220.5 155.0V361.0M1221.5 172.9V470.7M1222.5 157.3V471.5M1223.5 159.2V393.2M1224.5 164.0V470.0M1225.5 161.4V484.1M1226.5 162.9V400.4M1227.5 161.3V494.6M1228.5 159.2V499.0M1229.5 165.4V405.2M1230.5 167.2V503.3M1231.5 164.4V500.4M1232.5 161.2V382.3M1233.5 159.3V486.3M1234.5 156.7V488.3M1235.5 166.3V385.8M1236.5 182.8V467.7M1237.5 166.0V454.1M1238.5 170.8V370.6M1239.5 173.0V436.9M1240.5 165.0V435.4M1241.5 170.1V347.3M1242.5 198.1V449.6M1243.5 167.8V451.7M1244.5 156.7V368.6M1245.5 180.2V448.2M1246.5 153.2V445.5M1247.5 152.7V355.2M1248.5 162.4V439.3M1249.5 159.4V440.6M1250.5 161.3V362.1M1251.5 173.3V446.7M1252.5 157.3V437.0M1253.5 156.7V359.2M1254.5 183.9V445.2M1255.5 162.9V439.8M1256.5 159.3V371.8M1257.5 188.3V443.7M1258.5 165.2V442.6M1259.5 164.7V351.2M1260.5 187.1V426.3M1261.5 170.9V435.1M1262.5 168.7V362.9M1263.5 171.6V434.3M1264.5 172.4V436.7M1265.5 179.6V366.4M1266.5 192.2V430.7M1267.5 178.7V431.6M1268.5 182.4V345.4M1269.5 182.2V424.3M1270.5 175.5V414.5M1271.5 174.4V360.5M1272.5 199.8V421.2M1273.5 177.8V414.1M1274.5 177.8V354.1M1275.5 184.3V390.8M1276.5 185.2V380.2M1277.5 189.9V311.2M1278.5 202.1V364.3M1279.5 194.3V360.0M1280.5 195.0V320.6M1281.5 209.6V345.2M1282.5 208.0V337.3M1283.5 213.1V304.0M1284.5 218.0V319.4M1285.5 218.3V308.6M1286.5 223.8V283.2M1287.5 226.2V298.7M1288.5 225.7V294.3M1289.5 225.0V279.8M1290.5 226.0V285.0M1291.5 235.8V282.1M1292.5 243.9V271.1M1293.5 249.3V276.5M1294.5 248.0V275.3M1295.5 250.0V269.4M1296.5 254.0V270.7M1297.5 253.7V268.3M1298.5 256.6V264.9M1299.5 262.0V263.8"/>
<path fill="none" stroke="#4DBEEE" stroke-width="1.3" d="M1173.3 263.4V190.0M1183.0 263.4V179.3M1192.3 263.4V188.3M1223.0 263.4V143.3M1177.3 263.4V351.7M1225.7 263.4V508.3M1290.0 263.4V335.0"/>
<path fill="none" stroke="#be5a6d" stroke-width="1" d="M1309.5 258.3V258.8M1312.5 256.8V258.7M1315.5 246.7V248.8M1317.5 248.7V252.5M1320.5 234.2V238.2M1323.5 221.2V228.2M1325.5 215.4V222.2M1328.5 204.7V219.6M1331.5 196.7V202.8M1334.5 175.0V199.8M1336.5 178.6V194.2M1339.5 143.3V174.6M1342.5 131.0V138.3M1344.5 126.7V129.4M1347.5 118.7V161.7M1350.5 106.3V121.6M1352.5 99.1V129.0M1355.5 90.0V124.3M1358.5 87.8V107.9M1361.5 94.9V114.3M1363.5 85.0V94.3M1366.5 81.0V106.8M1369.5 74.0V100.6M1371.5 83.2V82.5M1374.5 74.0V129.0M1377.5 74.0V77.8M1379.5 76.4V95.6M1382.5 76.5V81.8M1385.5 91.7V91.7M1388.5 95.1V98.9M1390.5 99.2V131.1M1393.5 97.3V125.5M1396.5 119.0V151.0M1398.5 117.0V135.3M1401.5 122.0V141.9M1404.5 125.6V148.4M1406.5 122.3V154.0M1409.5 134.9V149.9M1412.5 143.0V154.0M1415.5 154.4V183.1M1417.5 161.0V167.3M1420.5 167.4V185.7M1423.5 164.6V179.0M1425.5 173.3V185.4M1428.5 174.5V180.2M1431.5 184.4V198.1M1433.5 193.5V202.0M1436.5 200.3V207.0M1439.5 207.5V215.0M1442.5 244.7V250.0"/>
<path fill="none" stroke="#b6485d" stroke-width="1" d="M1311.5 269.1V271.7M1313.5 272.0V274.7M1316.5 270.5V275.9M1319.5 277.2V283.2M1321.5 279.7V290.7M1324.5 289.1V299.7M1327.5 300.9V329.3M1330.5 311.0V331.3M1332.5 310.6V337.2M1335.5 321.7V340.6M1338.5 327.3V378.8M1340.5 358.6V394.0M1343.5 357.3V420.7M1346.5 364.0V432.0M1348.5 370.2V436.4M1351.5 380.2V438.4M1354.5 354.3V454.7M1357.5 365.7V460.6M1359.5 366.2V466.3M1362.5 358.9V476.8M1365.5 358.0V477.2M1367.5 373.6V471.8M1370.5 351.0V461.5M1373.5 357.8V459.0M1375.5 363.7V459.7M1378.5 348.6V456.6M1381.5 368.6V455.0M1384.5 368.0V451.2M1386.5 373.6V445.2M1389.5 371.0V447.4M1392.5 365.1V446.0M1394.5 350.3V444.0M1397.5 373.3V440.0M1400.5 360.5V431.9M1402.5 370.8V437.6M1405.5 373.5V440.4M1408.5 371.7V430.7M1411.5 356.0V416.7M1413.5 345.8V416.9M1416.5 333.4V393.0M1419.5 330.8V391.5M1421.5 339.7V386.6M1424.5 329.2V377.7M1427.5 328.7V367.6M1429.5 321.2V362.3M1432.5 314.1V349.2M1435.5 315.5V344.7M1438.5 307.0V320.9M1440.5 288.7V306.3"/>
<path fill="none" stroke="#A2142F" stroke-width="1" d="M1309.5 258.8V265.6M1310.5 257.8V268.8M1311.5 257.5V269.1M1312.5 258.7V273.2M1313.5 252.6V272.0M1314.5 246.7V275.2M1315.5 248.8V275.6M1316.5 248.1V270.5M1317.5 252.5V276.2M1318.5 247.0V279.2M1319.5 245.0V277.2M1320.5 238.2V287.3M1321.5 226.1V279.7M1322.5 223.9V293.9M1323.5 228.2V296.8M1324.5 218.3V289.1M1325.5 222.2V317.3M1326.5 212.1V329.7M1327.5 207.9V300.9M1328.5 219.6V328.0M1329.5 203.7V329.7M1330.5 199.2V311.0M1331.5 202.8V338.0M1332.5 194.1V310.6M1333.5 185.8V330.7M1334.5 199.8V332.2M1335.5 175.0V321.7M1336.5 194.2V351.4M1337.5 172.9V364.6M1338.5 161.0V327.3M1339.5 174.6V388.8M1340.5 139.0V358.6M1341.5 135.3V405.3M1342.5 138.3V413.0M1343.5 128.9V357.3M1344.5 129.4V425.3M1345.5 124.2V426.9M1346.5 123.7V364.0M1347.5 161.7V436.0M1348.5 114.3V370.2M1349.5 110.0V444.7M1350.5 121.6V446.6M1351.5 103.1V380.2M1352.5 129.0V450.4M1353.5 96.1V452.5M1354.5 99.5V354.3M1355.5 124.3V456.6M1356.5 89.2V458.4M1357.5 89.9V365.7M1358.5 107.9V463.4M1359.5 86.7V366.2M1360.5 86.3V470.2M1361.5 114.3V473.9M1362.5 90.6V358.9M1363.5 94.3V479.7M1364.5 83.8V479.7M1365.5 92.9V358.0M1366.5 106.8V474.7M1367.5 78.7V373.6M1368.5 79.3V468.9M1369.5 100.6V457.5M1370.5 74.0V351.0M1371.5 82.5V464.0M1372.5 83.2V462.7M1373.5 74.0V357.8M1374.5 129.0V460.7M1375.5 77.2V363.7M1376.5 84.9V453.4M1377.5 77.8V457.6M1378.5 74.0V348.6M1379.5 95.6V453.6M1380.5 84.7V445.8M1381.5 74.8V368.6M1382.5 81.8V454.2M1383.5 81.6V444.2M1384.5 86.7V368.0M1385.5 91.7V449.7M1386.5 89.7V373.6M1387.5 91.2V449.7M1388.5 98.9V449.7M1389.5 96.9V371.0M1390.5 131.1V440.7M1391.5 103.8V447.0M1392.5 97.5V365.1M1393.5 125.5V434.8M1394.5 111.6V350.3M1395.5 111.6V443.0M1396.5 151.0V435.2M1397.5 121.7V373.3M1398.5 135.3V438.5M1399.5 116.7V433.3M1400.5 125.0V360.5M1401.5 141.9V436.7M1402.5 117.8V370.8M1403.5 118.2V433.7M1404.5 148.4V439.7M1405.5 125.2V373.5M1406.5 154.0V441.1M1407.5 124.8V441.3M1408.5 133.9V371.7M1409.5 149.9V429.8M1410.5 140.0V423.0M1411.5 146.6V356.0M1412.5 154.0V418.9M1413.5 144.5V345.8M1414.5 152.7V401.9M1415.5 183.1V401.6M1416.5 160.0V333.4M1417.5 167.3V387.3M1418.5 161.0V392.0M1419.5 161.5V330.8M1420.5 185.7V383.2M1421.5 168.3V339.7M1422.5 163.0V388.7M1423.5 179.0V385.6M1424.5 169.0V329.2M1425.5 185.4V369.7M1426.5 176.1V368.6M1427.5 175.9V328.7M1428.5 180.2V366.6M1429.5 174.9V321.2M1430.5 179.1V353.6M1431.5 198.1V353.1M1432.5 189.4V314.1M1433.5 202.0V343.1M1434.5 196.5V346.2M1435.5 200.0V315.5M1436.5 207.0V336.7M1437.5 200.0V328.7M1438.5 200.0V307.0M1439.5 215.0V313.7M1440.5 218.3V288.7M1441.5 229.1V288.7M1442.5 250.0V272.4"/>
<path fill="none" stroke="#A2142F" stroke-width="1.3" d="M1325.0 263.4V178.3M1328.3 263.4V176.7M1350.0 263.4V89.3M1315.7 263.4V293.0M1322.7 263.4V314.7"/>
<path fill="none" stroke="#ff66ff" stroke-width="1" d="M1452.5 239.4V245.7M1455.5 239.9V242.8M1458.5 230.0V235.9M1461.5 221.5V229.3M1464.5 215.1V227.5M1467.5 203.7V205.9M1470.5 205.0V210.2M1473.5 212.2V226.4M1476.5 214.4V225.2M1479.5 210.0V215.4M1482.5 226.7V235.8M1485.5 222.3V232.1M1488.5 218.3V219.2M1491.5 231.1V231.8M1494.5 233.9V232.3M1497.5 229.3V234.7M1500.5 225.0V228.3M1503.5 238.8V240.1M1506.5 243.3V244.7M1509.5 248.5V252.4M1512.5 252.1V253.6M1515.5 235.0V236.9M1518.5 209.0V220.5M1521.5 206.1V217.0M1524.5 198.3V212.5M1527.5 199.3V213.2M1530.5 202.0V202.3M1533.5 200.7V203.3M1536.5 201.1V208.5M1539.5 196.0V206.3M1542.5 183.3V190.0M1545.5 183.3V187.3M1548.5 181.6V200.6M1551.5 181.7V186.1M1554.5 186.1V184.6M1557.5 182.0V184.8M1560.5 175.0V183.2M1563.5 176.0V189.8M1566.5 183.9V198.3M1569.5 183.8V198.8M1572.5 198.3V214.1M1575.5 205.6V202.7M1578.5 191.2V202.5M1581.5 192.3V200.3M1584.5 213.8V223.3M1587.5 243.7V246.2M1590.5 248.0V249.0M1593.5 250.7V252.7M1596.5 253.9V254.5M1599.5 255.3V255.9M1602.5 256.3V258.4M1605.5 257.2V258.9M1608.5 258.2V259.5M1611.5 258.5V259.4M1614.5 259.9V260.4"/>
<path fill="none" stroke="#ff66ff" stroke-width="1" d="M1454.5 281.6V294.7M1457.5 281.1V295.9M1460.5 290.3V301.7M1463.5 293.0V310.4M1466.5 296.8V311.6M1469.5 302.7V323.3M1472.5 293.3V320.3M1475.5 291.5V314.8M1478.5 289.2V311.9M1481.5 282.3V301.4M1484.5 285.5V300.1M1487.5 285.0V295.9M1490.5 285.9V300.0M1493.5 274.8V286.1M1496.5 280.5V296.7M1499.5 278.3V292.0M1502.5 283.0V300.0M1505.5 275.1V283.3M1508.5 272.7V278.8M1511.5 271.1V274.3M1514.5 270.7V275.5M1517.5 306.0V324.6M1520.5 326.5V360.8M1523.5 346.1V413.3M1526.5 344.1V408.4M1529.5 368.0V421.7M1532.5 372.5V428.3M1535.5 368.9V432.7M1538.5 361.3V420.6M1541.5 356.8V426.7M1544.5 349.5V412.3M1547.5 345.8V400.2M1550.5 332.9V399.7M1553.5 345.8V401.7M1556.5 336.2V396.7M1559.5 347.6V391.0M1562.5 345.0V398.1M1565.5 335.4V373.9M1568.5 322.2V376.3M1571.5 320.7V372.6M1574.5 330.7V367.5M1577.5 323.4V361.4M1580.5 316.9V356.7M1583.5 292.5V315.2M1586.5 275.2V280.5M1589.5 272.7V278.2M1592.5 274.2V280.8M1595.5 268.9V271.7M1598.5 266.8V269.3M1601.5 266.5V267.9M1604.5 266.2V267.5M1607.5 266.4V267.5M1610.5 266.1V268.0M1613.5 265.4V266.7"/>
<path fill="none" stroke="#FF00FF" stroke-width="1" d="M1452.5 245.7V289.0M1453.5 238.6V300.0M1454.5 238.3V281.6M1455.5 242.8V292.9M1456.5 238.7V293.4M1457.5 234.3V281.1M1458.5 235.9V298.0M1459.5 226.9V298.9M1460.5 224.2V290.3M1461.5 229.3V305.3M1462.5 220.8V308.9M1463.5 220.2V293.0M1464.5 227.5V310.9M1465.5 208.4V311.2M1466.5 203.3V296.8M1467.5 205.9V314.7M1468.5 205.2V317.6M1469.5 205.8V302.7M1470.5 210.2V323.3M1471.5 205.0V318.3M1472.5 208.6V293.3M1473.5 226.4V318.8M1474.5 216.8V314.9M1475.5 216.6V291.5M1476.5 225.2V313.1M1477.5 212.5V312.5M1478.5 210.6V289.2M1479.5 215.4V308.1M1480.5 219.5V304.3M1481.5 225.4V282.3M1482.5 235.8V302.9M1483.5 222.9V303.3M1484.5 221.2V285.5M1485.5 232.1V297.6M1486.5 219.8V295.4M1487.5 219.0V285.0M1488.5 219.2V296.3M1489.5 218.3V300.0M1490.5 225.8V285.9M1491.5 231.8V294.2M1492.5 229.0V289.9M1493.5 228.3V274.8M1494.5 232.3V288.6M1495.5 236.6V293.6M1496.5 233.5V280.5M1497.5 234.7V296.1M1498.5 227.2V293.8M1499.5 225.0V278.3M1500.5 228.3V294.3M1501.5 230.1V298.7M1502.5 235.2V283.0M1503.5 240.1V295.4M1504.5 239.8V289.5M1505.5 241.7V275.1M1506.5 244.7V280.5M1507.5 244.7V280.3M1508.5 246.2V272.7M1509.5 252.4V276.6M1510.5 249.8V275.0M1511.5 250.7V271.1M1512.5 253.6V272.9M1513.5 253.3V271.6M1514.5 246.8V270.7M1515.5 236.9V283.3M1516.5 219.3V306.8M1517.5 208.3V306.0M1518.5 220.5V329.0M1519.5 211.1V333.3M1520.5 209.7V326.5M1521.5 217.0V384.3M1522.5 203.3V398.8M1523.5 203.1V346.1M1524.5 212.5V413.3M1525.5 198.3V409.6M1526.5 202.6V344.1M1527.5 213.2V412.6M1528.5 199.6V412.7M1529.5 200.8V368.0M1530.5 202.3V423.9M1531.5 198.3V426.0M1532.5 198.5V372.5M1533.5 203.3V422.8M1534.5 199.5V432.7M1535.5 199.0V368.9M1536.5 208.5V425.8M1537.5 197.0V420.8M1538.5 194.6V361.3M1539.5 206.3V416.3M1540.5 189.0V426.7M1541.5 185.9V356.8M1542.5 190.0V423.8M1543.5 180.8V420.9M1544.5 180.0V349.5M1545.5 187.3V410.6M1546.5 182.7V406.1M1547.5 181.1V345.8M1548.5 200.6V402.0M1549.5 183.4V400.4M1550.5 186.0V332.9M1551.5 186.1V394.1M1552.5 181.7V401.6M1553.5 187.2V345.8M1554.5 184.6V392.4M1555.5 188.9V399.8M1556.5 184.3V336.2M1557.5 184.8V400.3M1558.5 183.1V400.0M1559.5 179.8V347.6M1560.5 183.2V391.2M1561.5 175.0V400.0M1562.5 177.8V345.0M1563.5 189.8V391.6M1564.5 176.5V385.2M1565.5 180.4V335.4M1566.5 198.3V377.6M1567.5 179.3V378.1M1568.5 180.9V322.2M1569.5 198.8V374.8M1570.5 186.7V371.1M1571.5 192.5V320.7M1572.5 214.1V371.6M1573.5 201.8V370.2M1574.5 203.5V330.7M1575.5 202.7V370.3M1576.5 198.8V369.7M1577.5 195.0V323.4M1578.5 202.5V367.7M1579.5 190.0V366.7M1580.5 192.8V316.9M1581.5 200.3V346.7M1582.5 196.7V331.0M1583.5 208.3V292.5M1584.5 223.3V299.3M1585.5 216.7V283.3M1586.5 232.3V275.2M1587.5 246.2V279.3M1588.5 245.2V277.7M1589.5 246.7V272.7M1590.5 249.0V280.1M1591.5 247.9V281.7M1592.5 248.8V274.2M1593.5 252.7V277.3M1594.5 251.8V274.7M1595.5 253.3V268.9M1596.5 254.5V270.6M1597.5 254.3V270.0M1598.5 254.8V266.8M1599.5 255.9V269.0M1600.5 255.7V268.3M1601.5 256.4V266.5M1602.5 258.4V267.7M1603.5 256.6V267.6M1604.5 257.3V266.2M1605.5 258.9V267.4M1606.5 257.8V267.5M1607.5 257.9V266.4M1608.5 259.5V267.8M1609.5 258.4V267.8M1610.5 258.6V266.1M1611.5 259.4V268.3M1612.5 258.3V267.9M1613.5 258.3V265.4M1614.5 260.4V265.4M1615.5 261.8V264.2"/>
<path fill="none" stroke="#FF00FF" stroke-width="1.3" d="M1465.0 263.4V343.3M1473.3 263.4V335.0"/>
<path fill="none" stroke="#666666" stroke-width="1" d="M1626.5 260.2V261.2M1629.5 259.8V260.9M1633.5 260.6V261.1M1636.5 260.8V261.3M1640.5 260.7V261.3M1643.5 261.2V261.5M1646.5 261.6V261.9M1650.5 258.4V260.0M1653.5 243.3V246.2M1657.5 253.9V256.2M1660.5 242.4V244.9M1663.5 226.9V238.3M1667.5 159.5V188.1M1670.5 123.4V138.0M1674.5 116.2V157.7M1677.5 131.7V173.3M1680.5 136.7V148.3M1684.5 145.7V164.9M1687.5 155.8V180.7M1691.5 166.1V180.5M1694.5 162.6V176.5M1697.5 170.6V192.5M1701.5 182.8V192.3M1704.5 190.7V205.8M1708.5 198.0V200.0M1711.5 197.0V217.0M1714.5 200.2V215.2M1718.5 196.7V204.4M1721.5 207.0V221.4M1725.5 211.2V221.9M1728.5 208.5V221.9M1731.5 211.4V225.7M1735.5 203.0V210.7M1738.5 198.4V211.9M1742.5 200.4V221.6M1745.5 205.5V212.1M1748.5 205.2V218.8M1752.5 203.5V209.3M1755.5 202.4V217.9M1759.5 202.3V211.6M1762.5 205.4V213.9M1765.5 209.2V213.9M1769.5 209.5V214.4M1772.5 210.0V213.6M1776.5 208.2V226.4M1779.5 206.7V216.9M1782.5 203.6V221.4M1786.5 203.3V207.5"/>
<path fill="none" stroke="#666666" stroke-width="1" d="M1628.5 265.3V266.4M1631.5 265.2V266.1M1635.5 265.1V266.0M1638.5 265.4V266.0M1641.5 265.1V265.8M1645.5 264.7V265.2M1648.5 264.7V265.5M1651.5 269.3V273.0M1655.5 280.0V288.3M1658.5 269.6V272.4M1662.5 292.4V307.5M1665.5 348.3V379.0M1668.5 356.4V402.5M1672.5 368.7V393.5M1675.5 329.9V342.1M1679.5 330.5V352.9M1682.5 336.9V368.5M1685.5 338.2V381.7M1689.5 355.6V373.8M1692.5 334.2V382.6M1696.5 357.5V388.0M1699.5 357.8V386.9M1702.5 337.9V382.8M1706.5 356.5V381.9M1709.5 345.1V385.8M1713.5 351.4V376.7M1716.5 337.2V377.7M1719.5 357.7V381.5M1723.5 354.7V370.6M1726.5 328.4V356.5M1730.5 311.6V340.7M1733.5 317.0V351.0M1736.5 321.0V355.0M1740.5 318.5V355.0M1743.5 316.9V350.5M1747.5 329.2V351.5M1750.5 325.9V350.5M1754.5 316.9V349.2M1757.5 322.4V346.4M1760.5 313.7V343.3M1764.5 321.1V335.7M1767.5 318.0V339.8M1771.5 324.6V336.9M1774.5 311.2V337.0M1777.5 314.9V338.2M1781.5 328.8V343.9M1784.5 328.3V356.7"/>
<path fill="none" stroke="#000000" stroke-width="1" d="M1626.5 261.2V265.9M1627.5 259.3V266.7M1628.5 259.6V265.3M1629.5 260.9V266.4M1630.5 260.0V266.3M1631.5 260.3V265.2M1632.5 260.4V266.2M1633.5 261.1V266.0M1634.5 260.8V265.9M1635.5 260.8V265.1M1636.5 261.3V265.9M1637.5 260.7V266.0M1638.5 260.7V265.4M1639.5 260.7V266.0M1640.5 261.3V266.0M1641.5 260.9V265.1M1642.5 261.1V265.7M1643.5 261.5V265.5M1644.5 261.4V265.4M1645.5 261.4V264.7M1646.5 261.9V265.1M1647.5 261.1V265.3M1648.5 260.8V264.7M1649.5 260.4V265.8M1650.5 260.0V267.6M1651.5 253.2V269.3M1652.5 248.2V278.2M1653.5 246.2V283.3M1654.5 243.3V285.8M1655.5 246.7V280.0M1656.5 250.0V288.3M1657.5 256.2V280.3M1658.5 253.9V269.6M1659.5 251.7V269.6M1660.5 244.9V274.5M1661.5 233.8V289.5M1662.5 226.7V292.4M1663.5 238.3V332.5M1664.5 227.6V358.5M1665.5 207.7V348.3M1666.5 185.5V403.3M1667.5 188.1V403.1M1668.5 142.1V356.4M1669.5 128.3V401.8M1670.5 138.0V399.8M1671.5 118.6V400.5M1672.5 114.1V368.7M1673.5 112.7V371.7M1674.5 157.7V350.0M1675.5 121.2V329.9M1676.5 126.4V340.1M1677.5 173.3V343.4M1678.5 138.5V348.5M1679.5 135.4V330.5M1680.5 148.3V354.9M1681.5 139.2V362.0M1682.5 139.1V336.9M1683.5 141.3V374.8M1684.5 164.9V381.7M1685.5 150.0V338.2M1686.5 152.9V378.4M1687.5 180.7V377.6M1688.5 158.7V376.0M1689.5 158.8V355.6M1690.5 160.0V372.1M1691.5 180.5V380.6M1692.5 161.3V334.2M1693.5 161.9V380.7M1694.5 176.5V386.7M1695.5 163.3V389.2M1696.5 167.0V357.5M1697.5 192.5V394.2M1698.5 177.8V395.0M1699.5 174.8V357.8M1700.5 176.7V388.9M1701.5 192.3V385.7M1702.5 182.8V337.9M1703.5 186.3V380.0M1704.5 205.8V379.8M1705.5 195.0V381.3M1706.5 195.7V356.5M1707.5 196.3V387.4M1708.5 200.0V388.3M1709.5 195.0V345.1M1710.5 195.0V378.5M1711.5 217.0V381.7M1712.5 197.4V379.8M1713.5 198.7V351.4M1714.5 215.2V378.8M1715.5 200.2V379.8M1716.5 199.7V337.2M1717.5 197.2V382.8M1718.5 204.4V383.3M1719.5 199.8V357.7M1720.5 203.8V381.7M1721.5 221.4V383.3M1722.5 210.7V381.8M1723.5 209.0V354.7M1724.5 209.0V371.7M1725.5 221.9V366.7M1726.5 207.0V328.4M1727.5 206.7V346.4M1728.5 221.9V340.6M1729.5 207.7V339.1M1730.5 208.3V311.6M1731.5 225.7V343.2M1732.5 212.0V348.8M1733.5 209.6V317.0M1734.5 206.7V350.7M1735.5 210.7V350.7M1736.5 199.4V321.0M1737.5 198.3V355.0M1738.5 211.9V352.0M1739.5 198.3V355.0M1740.5 198.3V318.5M1741.5 202.1V351.9M1742.5 221.6V352.0M1743.5 201.4V316.9M1744.5 202.6V350.3M1745.5 212.1V346.1M1746.5 203.0V351.7M1747.5 203.5V329.2M1748.5 218.8V349.6M1749.5 204.5V350.5M1750.5 204.5V325.9M1751.5 204.0V347.4M1752.5 209.3V351.5M1753.5 202.6V351.7M1754.5 204.4V316.9M1755.5 217.9V345.7M1756.5 200.0V347.7M1757.5 200.3V322.4M1758.5 204.8V345.2M1759.5 211.6V344.3M1760.5 203.3V313.7M1761.5 206.3V338.0M1762.5 213.9V341.3M1763.5 206.4V340.3M1764.5 210.4V321.1M1765.5 213.9V339.7M1766.5 208.0V340.0M1767.5 208.5V318.0M1768.5 212.0V334.9M1769.5 214.4V338.8M1770.5 210.0V338.8M1771.5 210.6V324.6M1772.5 213.6V339.8M1773.5 209.6V340.0M1774.5 211.9V311.2M1775.5 211.4V337.9M1776.5 226.4V338.7M1777.5 207.7V314.9M1778.5 210.4V337.5M1779.5 216.9V337.2M1780.5 205.7V341.7M1781.5 206.5V328.8M1782.5 221.4V351.8M1783.5 203.3V354.7M1784.5 204.7V328.3M1785.5 204.0V356.7M1786.5 207.5V305.7M1787.5 221.3V268.0"/>
<path fill="none" stroke="#000000" stroke-width="1.3" d="M1652.3 263.4V225.0M1656.0 263.4V221.7M1652.3 263.4V295.0M1669.3 263.4V430.0"/>
<path fill="none" stroke="#61b061" stroke-width="1" d="M1797.5 240.5V251.7M1800.5 200.0V233.3M1801.5 201.6V235.5M1804.5 198.0V227.6M1807.5 195.3V233.5M1810.5 198.3V229.6M1813.5 202.1V230.7M1816.5 206.6V230.5M1817.5 204.5V230.4M1820.5 209.9V238.8M1823.5 214.3V238.2M1826.5 219.1V236.8M1829.5 220.9V240.9M1832.5 221.8V242.6M1833.5 225.1V245.8M1836.5 221.4V241.1M1839.5 215.0V239.0M1842.5 217.2V235.3M1845.5 216.6V241.7M1848.5 212.8V235.9M1849.5 212.7V238.1M1852.5 216.5V236.5M1855.5 220.3V239.0M1858.5 221.5V244.2M1861.5 222.5V241.0M1864.5 220.7V239.8M1865.5 219.6V237.1M1868.5 219.5V235.2M1871.5 220.9V241.8M1874.5 219.8V237.2M1877.5 212.0V234.9M1880.5 209.1V231.1M1881.5 204.9V229.9M1884.5 204.0V230.2M1887.5 203.3V228.5M1890.5 205.7V233.3M1893.5 203.1V224.4M1896.5 197.9V230.5M1897.5 200.4V230.1M1900.5 196.4V226.4M1903.5 199.5V225.5M1906.5 194.8V226.2M1909.5 193.3V222.4M1912.5 195.5V220.9M1913.5 194.0V223.9M1916.5 195.8V216.4M1919.5 191.7V225.5M1922.5 194.4V228.2M1925.5 192.6V228.5M1928.5 190.9V220.5M1929.5 190.0V217.5M1932.5 187.9V221.8M1935.5 189.4V207.3M1938.5 185.0V207.4M1941.5 190.3V204.9M1944.5 188.5V208.8M1945.5 194.8V203.2M1948.5 196.9V215.2M1951.5 199.4V214.4M1954.5 205.9V208.8M1957.5 207.0V208.6M1960.5 201.0V202.3M1961.5 200.5V199.2M1964.5 197.0V194.7M1967.5 191.4V194.9M1970.5 183.3V191.8M1973.5 184.6V186.2M1976.5 204.9V215.3M1977.5 216.5V225.2M1980.5 240.6V241.3M1983.5 252.0V252.3M1986.5 253.8V254.7M1989.5 253.3V253.7M1992.5 254.4V256.2M1993.5 255.2V256.6M1996.5 256.3V257.3M1999.5 257.6V258.3M2002.5 258.0V258.5M2005.5 258.7V258.8M2008.5 259.6V260.1M2009.5 259.7V259.8M2012.5 260.4V260.8M2015.5 260.9V260.8M2018.5 261.2V261.2M2021.5 261.6V261.6M2024.5 262.2V262.2M2025.5 262.8V262.8"/>
<path fill="none" stroke="#61b061" stroke-width="1" d="M1799.5 280.2V364.4M1802.5 282.2V372.3M1805.5 286.5V373.3M1808.5 281.5V368.8M1809.5 282.5V365.3M1812.5 278.7V365.0M1815.5 280.9V361.0M1818.5 280.3V357.4M1821.5 280.1V350.8M1824.5 277.6V343.2M1825.5 278.0V345.6M1828.5 277.7V342.1M1831.5 277.6V337.6M1834.5 275.4V337.7M1837.5 278.2V341.6M1840.5 277.1V339.2M1841.5 280.4V341.8M1844.5 281.8V343.5M1847.5 278.3V343.0M1850.5 277.5V339.0M1853.5 278.4V337.0M1856.5 279.2V333.8M1857.5 279.4V334.2M1860.5 279.2V329.1M1863.5 279.8V331.8M1866.5 280.4V329.8M1869.5 278.2V331.7M1872.5 282.3V336.2M1873.5 282.5V337.2M1876.5 279.7V339.6M1879.5 278.8V338.6M1882.5 282.4V336.8M1885.5 282.6V338.0M1888.5 281.1V336.6M1889.5 282.7V343.3M1892.5 285.7V344.3M1895.5 284.1V347.4M1898.5 287.2V349.1M1901.5 290.3V349.8M1904.5 289.3V356.7M1905.5 287.2V357.0M1908.5 296.6V355.7M1911.5 289.5V353.4M1914.5 298.8V357.0M1917.5 299.3V352.6M1920.5 295.4V360.0M1921.5 300.0V355.8M1924.5 306.5V360.0M1927.5 301.8V352.7M1930.5 300.0V357.0M1933.5 298.6V354.5M1936.5 309.4V354.7M1937.5 309.5V355.9M1940.5 307.3V361.0M1943.5 313.4V363.3M1946.5 305.2V359.3M1949.5 310.0V352.5M1952.5 309.9V353.0M1953.5 311.7V353.3M1956.5 315.1V345.4M1959.5 313.6V356.7M1962.5 319.5V364.2M1965.5 340.8V359.8M1968.5 330.4V351.8M1969.5 319.6V353.0M1972.5 333.0V349.0M1975.5 329.5V333.3M1978.5 284.1V290.4M1981.5 272.2V274.1M1984.5 272.1V272.0M1985.5 271.4V272.6M1988.5 272.7V272.4M1991.5 270.7V271.9M1994.5 269.7V270.4M1997.5 269.2V269.9M2000.5 268.9V268.9M2001.5 268.8V268.7M2004.5 267.4V267.9M2007.5 267.1V267.4M2010.5 266.0V266.7M2013.5 266.1V266.2M2016.5 266.0V266.1M2017.5 265.8V266.0M2020.5 265.1V265.4M2023.5 265.0V265.0"/>
<path fill="none" stroke="#008000" stroke-width="1" d="M1797.5 251.7V335.7M1798.5 208.0V367.7M1799.5 198.0V280.2M1800.5 233.3V368.2M1801.5 235.5V371.8M1802.5 196.8V282.2M1803.5 196.3V367.6M1804.5 227.6V373.3M1805.5 196.0V286.5M1806.5 195.0V367.1M1807.5 233.5V370.3M1808.5 200.7V281.5M1809.5 197.3V282.5M1810.5 229.6V366.2M1811.5 203.3V365.7M1812.5 201.8V278.7M1813.5 230.7V359.2M1814.5 203.3V358.9M1815.5 204.3V280.9M1816.5 230.5V365.0M1817.5 230.4V363.9M1818.5 204.9V280.3M1819.5 207.0V356.8M1820.5 238.8V353.3M1821.5 209.0V280.1M1822.5 210.6V350.3M1823.5 238.2V348.8M1824.5 214.7V277.6M1825.5 216.7V278.0M1826.5 236.8V342.5M1827.5 217.7V343.4M1828.5 218.2V277.7M1829.5 240.9V341.1M1830.5 221.4V338.9M1831.5 221.0V277.6M1832.5 242.6V340.4M1833.5 245.8V340.2M1834.5 222.8V275.4M1835.5 221.6V340.3M1836.5 241.1V335.8M1837.5 219.8V278.2M1838.5 218.1V342.4M1839.5 239.0V339.5M1840.5 215.0V277.1M1841.5 215.8V280.4M1842.5 235.3V346.4M1843.5 215.0V346.7M1844.5 214.6V281.8M1845.5 241.7V339.9M1846.5 216.9V339.7M1847.5 216.6V278.3M1848.5 235.9V342.0M1849.5 238.1V340.0M1850.5 214.0V277.5M1851.5 215.4V333.7M1852.5 236.5V338.0M1853.5 217.9V278.4M1854.5 220.9V333.4M1855.5 239.0V333.7M1856.5 222.0V279.2M1857.5 220.8V279.4M1858.5 244.2V333.5M1859.5 221.9V331.8M1860.5 223.0V279.2M1861.5 241.0V329.1M1862.5 221.4V332.1M1863.5 220.3V279.8M1864.5 239.8V329.6M1865.5 237.1V328.4M1866.5 217.0V280.4M1867.5 216.7V327.0M1868.5 235.2V331.4M1869.5 220.4V278.2M1870.5 219.4V333.4M1871.5 241.8V333.6M1872.5 219.6V282.3M1873.5 218.1V282.5M1874.5 237.2V340.0M1875.5 216.7V340.0M1876.5 213.7V279.7M1877.5 234.9V336.3M1878.5 213.1V334.9M1879.5 211.9V278.8M1880.5 231.1V338.3M1881.5 229.9V335.9M1882.5 204.6V282.4M1883.5 207.8V332.2M1884.5 230.2V337.0M1885.5 205.0V282.6M1886.5 203.3V338.6M1887.5 228.5V336.8M1888.5 206.3V281.1M1889.5 206.8V282.7M1890.5 233.3V344.0M1891.5 203.0V343.8M1892.5 201.8V285.7M1893.5 224.4V340.4M1894.5 201.1V346.7M1895.5 198.3V284.1M1896.5 230.5V347.7M1897.5 230.1V346.5M1898.5 201.5V287.2M1899.5 196.7V350.0M1900.5 226.4V351.3M1901.5 199.6V290.3M1902.5 199.8V352.9M1903.5 225.5V351.6M1904.5 195.0V289.3M1905.5 194.7V287.2M1906.5 226.2V352.6M1907.5 195.4V353.4M1908.5 198.0V296.6M1909.5 222.4V358.3M1910.5 193.0V358.3M1911.5 196.0V289.5M1912.5 220.9V354.5M1913.5 223.9V355.9M1914.5 191.7V298.8M1915.5 191.7V357.4M1916.5 216.4V357.9M1917.5 193.4V299.3M1918.5 193.5V355.1M1919.5 225.5V360.0M1920.5 191.7V295.4M1921.5 193.3V300.0M1922.5 228.2V356.3M1923.5 192.7V359.8M1924.5 193.0V306.5M1925.5 228.5V360.0M1926.5 194.1V354.9M1927.5 194.5V301.8M1928.5 220.5V355.5M1929.5 217.5V357.4M1930.5 189.0V300.0M1931.5 188.4V355.6M1932.5 221.8V354.6M1933.5 186.0V298.6M1934.5 185.8V358.3M1935.5 207.3V358.6M1936.5 188.5V309.4M1937.5 185.1V309.5M1938.5 207.4V355.6M1939.5 188.1V360.0M1940.5 187.1V307.3M1941.5 204.9V359.4M1942.5 185.8V363.0M1943.5 186.5V313.4M1944.5 208.8V358.1M1945.5 203.2V355.2M1946.5 192.0V305.2M1947.5 193.6V357.5M1948.5 215.2V353.3M1949.5 195.7V310.0M1950.5 196.7V351.0M1951.5 214.4V348.0M1952.5 200.7V309.9M1953.5 202.7V311.7M1954.5 208.8V346.5M1955.5 209.5V344.0M1956.5 207.3V315.1M1957.5 208.6V348.6M1958.5 209.7V348.1M1959.5 205.0V313.6M1960.5 202.3V359.2M1961.5 199.2V359.0M1962.5 192.9V319.5M1963.5 191.7V365.0M1964.5 194.7V359.8M1965.5 198.2V340.8M1966.5 195.5V361.0M1967.5 194.9V359.1M1968.5 188.1V330.4M1969.5 183.3V319.6M1970.5 191.8V350.0M1971.5 184.5V347.5M1972.5 183.3V333.0M1973.5 186.2V348.5M1974.5 189.0V342.1M1975.5 193.3V329.5M1976.5 215.3V317.7M1977.5 225.2V303.0M1978.5 225.8V284.1M1979.5 234.2V282.6M1980.5 241.3V276.7M1981.5 246.1V272.2M1982.5 250.3V273.0M1983.5 252.3V272.2M1984.5 252.3V272.1M1985.5 253.3V271.4M1986.5 254.7V273.3M1987.5 253.7V273.2M1988.5 253.5V272.7M1989.5 253.7V272.5M1990.5 253.3V271.7M1991.5 254.0V270.7M1992.5 256.2V271.6M1993.5 256.6V270.8M1994.5 255.4V269.7M1995.5 256.2V270.6M1996.5 257.3V270.2M1997.5 256.8V269.2M1998.5 257.2V269.5M1999.5 258.3V269.3M2000.5 257.5V268.9M2001.5 257.8V268.8M2002.5 258.5V268.6M2003.5 258.2V268.4M2004.5 258.7V267.4M2005.5 258.8V267.7M2006.5 259.1V267.4M2007.5 259.4V267.1M2008.5 260.1V267.1M2009.5 259.8V266.9M2010.5 260.0V266.0M2011.5 260.3V266.5M2012.5 260.8V266.3M2013.5 260.6V266.1M2014.5 260.8V266.2M2015.5 260.8V266.1M2016.5 260.9V266.0M2017.5 261.0V265.8M2018.5 261.2V265.7M2019.5 261.3V265.6M2020.5 261.4V265.1M2021.5 261.6V265.2M2022.5 261.6V265.2M2023.5 261.7V265.0M2024.5 262.2V264.4M2025.5 262.8V263.8"/>
<g stroke="#141414" stroke-width="1" stroke-linecap="butt"><path fill="none" d="M325 48.5V585.5M324.5 585H2263.5"/><line x1="325.5" y1="531.40" x2="345" y2="531.40"/><line x1="325.5" y1="477.80" x2="345" y2="477.80"/><line x1="325.5" y1="424.20" x2="345" y2="424.20"/><line x1="325.5" y1="370.60" x2="345" y2="370.60"/><line x1="325.5" y1="317.00" x2="345" y2="317.00"/><line x1="325.5" y1="263.40" x2="345" y2="263.40"/><line x1="325.5" y1="209.80" x2="345" y2="209.80"/><line x1="325.5" y1="156.20" x2="345" y2="156.20"/><line x1="325.5" y1="102.60" x2="345" y2="102.60"/><line x1="325.5" y1="49.00" x2="345" y2="49.00"/><line x1="601.86" y1="565" x2="601.86" y2="584.5"/><line x1="878.71" y1="565" x2="878.71" y2="584.5"/><line x1="1155.57" y1="565" x2="1155.57" y2="584.5"/><line x1="1432.43" y1="565" x2="1432.43" y2="584.5"/><line x1="1709.29" y1="565" x2="1709.29" y2="584.5"/><line x1="1986.14" y1="565" x2="1986.14" y2="584.5"/><line x1="2263.00" y1="565" x2="2263.00" y2="584.5"/></g>
<g font-family="'Liberation Sans', sans-serif" font-size="22" fill="#262626"><text transform="translate(317 592.0) scale(0.955 1)" text-anchor="end">-0.6</text><text transform="translate(317 538.4) scale(0.955 1)" text-anchor="end">-0.5</text><text transform="translate(317 484.8) scale(0.955 1)" text-anchor="end">-0.4</text><text transform="translate(317 431.2) scale(0.955 1)" text-anchor="end">-0.3</text><text transform="translate(317 377.6) scale(0.955 1)" text-anchor="end">-0.2</text><text transform="translate(317 324.0) scale(0.955 1)" text-anchor="end">-0.1</text><text transform="translate(317 270.4) scale(0.955 1)" text-anchor="end">0</text><text transform="translate(317 216.8) scale(0.955 1)" text-anchor="end">0.1</text><text transform="translate(317 163.2) scale(0.955 1)" text-anchor="end">0.2</text><text transform="translate(317 109.6) scale(0.955 1)" text-anchor="end">0.3</text><text transform="translate(317 56.0) scale(0.955 1)" text-anchor="end">0.4</text><text transform="translate(325.00 611) scale(0.955 1)" text-anchor="middle">0</text><text transform="translate(601.86 611) scale(0.955 1)" text-anchor="middle">0.5</text><text transform="translate(878.71 611) scale(0.955 1)" text-anchor="middle">1</text><text transform="translate(1155.57 611) scale(0.955 1)" text-anchor="middle">1.5</text><text transform="translate(1432.43 611) scale(0.955 1)" text-anchor="middle">2</text><text transform="translate(1709.29 611) scale(0.955 1)" text-anchor="middle">2.5</text><text transform="translate(1986.14 611) scale(0.955 1)" text-anchor="middle">3</text><text transform="translate(2263.00 611) scale(0.955 1)" text-anchor="middle">3.5</text></g>
<text x="1294" y="639.3" text-anchor="middle" font-family="'Liberation Sans', sans-serif" font-size="23.1" fill="#262626">Time (s)</text>
<text transform="translate(268.8 316.7) rotate(-90)" x="0" y="0" text-anchor="middle" font-family="'Liberation Sans', sans-serif" font-size="23.1" fill="#262626">Amplitude</text>
<text x="1294.8" y="41" text-anchor="middle" font-family="'Liberation Sans', sans-serif" font-weight="bold" font-size="23" fill="#1a1a1a">Sentence JOH-001-087 (Colored by Word)</text></svg>
</body></html>
